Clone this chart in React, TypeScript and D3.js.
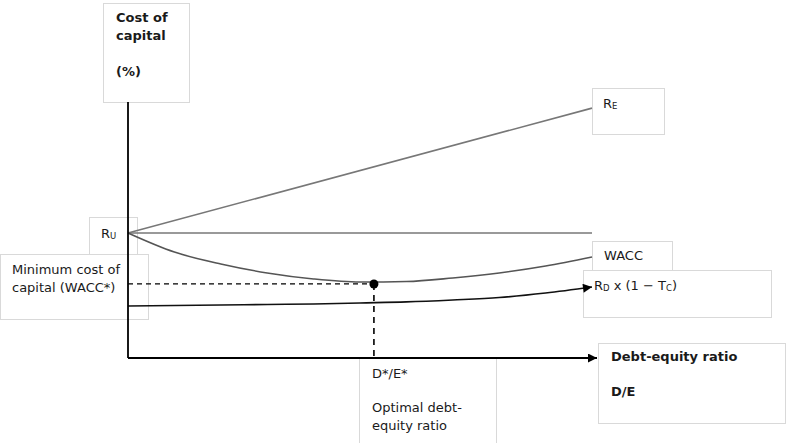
import React, { useEffect, useRef } from 'react'
import * as d3 from 'd3'

// debt-equity ratio (D/E) sample points
const deRatio = [0, 0.2, 0.4, 0.6, 0.8, 1.0, 1.2, 1.4, 1.6, 1.8, 2.0]
// cost of capital (%)
const waccValues = [12.16, 10.29, 9.12, 8.24, 7.65, 7.35, 7.4, 7.75, 8.24, 8.92, 9.8]
const debtAfterTax = [5.0, 5.05, 5.1, 5.15, 5.2, 5.3, 5.4, 5.59, 5.83, 6.27, 6.86]
const equityEnds = [
  { de: 0, value: 12.16 },
  { de: 2.0, value: 24.4 }
]
const unleveredCost = 12.16
const optimalRatio = 1.06
const minWacc = 7.16

const FONT = '"DejaVu Sans", Verdana, sans-serif'

export default function App() {
  const svgRef = useRef<SVGSVGElement | null>(null)

  useEffect(() => {
    if (!svgRef.current) {
      return
    }
    const width = 787
    const height = 443
    const svg = d3.select(svgRef.current)
    svg.attr('viewBox', `0 0 ${width} ${height}`)
    svg.selectAll('*').remove()

    const xScale = d3.scaleLinear().domain([0, 2]).range([128, 592])
    const yScale = d3.scaleLinear().domain([0, 25]).range([357, 102])

    const defs = svg.append('defs')
    defs
      .append('marker')
      .attr('id', 'arrow')
      .attr('viewBox', '0 0 10 10')
      .attr('refX', 10)
      .attr('refY', 5)
      .attr('markerWidth', 11)
      .attr('markerHeight', 9)
      .attr('markerUnits', 'userSpaceOnUse')
      .attr('orient', 'auto')
      .append('path')
      .attr('d', 'M0,0 L10,5 L0,10 Z')
      .attr('fill', '#000')

    // label boxes (behind the lines)
    const boxes = [
      { x: 103, y: 3, w: 86, h: 99 },
      { x: 89, y: 217, w: 48, h: 40 },
      { x: 0, y: 254, w: 148, h: 65 },
      { x: 592, y: 88, w: 72, h: 46 },
      { x: 592, y: 241, w: 80, h: 35 },
      { x: 583, y: 270, w: 188, h: 47 },
      { x: 359, y: 358, w: 137, h: 100 },
      { x: 598, y: 343, w: 187, h: 80 }
    ]
    svg
      .selectAll('rect.box')
      .data(boxes)
      .enter()
      .append('rect')
      .attr('class', 'box')
      .attr('x', (d) => d.x + 0.5)
      .attr('y', (d) => d.y + 0.5)
      .attr('width', (d) => d.w)
      .attr('height', (d) => d.h)
      .attr('fill', '#fff')
      .attr('stroke', '#d9d9d9')
      .attr('stroke-width', 1)

    const line = d3
      .line<[number, number]>()
      .x((d) => xScale(d[0]))
      .y((d) => yScale(d[1]))

    const curve = d3
      .line<[number, number]>()
      .x((d) => xScale(d[0]))
      .y((d) => yScale(d[1]))
      .curve(d3.curveMonotoneX)

    // R_E
    svg
      .append('path')
      .attr('d', line(equityEnds.map((d) => [d.de, d.value] as [number, number])))
      .attr('fill', 'none')
      .attr('stroke', '#777')
      .attr('stroke-width', 1.6)

    // R_U
    svg
      .append('path')
      .attr('d', line([[0, unleveredCost], [2, unleveredCost]]))
      .attr('fill', 'none')
      .attr('stroke', '#777')
      .attr('stroke-width', 1.6)

    // WACC
    svg
      .append('path')
      .attr('d', curve(deRatio.map((d, i) => [d, waccValues[i]] as [number, number])))
      .attr('fill', 'none')
      .attr('stroke', '#555')
      .attr('stroke-width', 1.6)

    // R_D x (1 - T_C)
    svg
      .append('path')
      .attr('d', curve(deRatio.map((d, i) => [d, debtAfterTax[i]] as [number, number])))
      .attr('fill', 'none')
      .attr('stroke', '#111')
      .attr('stroke-width', 1.6)
      .attr('marker-end', 'url(#arrow)')

    // dashed guides to the optimum
    svg
      .append('path')
      .attr('d', line([[0, minWacc], [optimalRatio, minWacc]]))
      .attr('fill', 'none')
      .attr('stroke', '#000')
      .attr('stroke-width', 1.2)
      .attr('stroke-dasharray', '5,4')
    svg
      .append('path')
      .attr('d', line([[optimalRatio, minWacc], [optimalRatio, 0]]))
      .attr('fill', 'none')
      .attr('stroke', '#000')
      .attr('stroke-width', 1.6)
      .attr('stroke-dasharray', '6,5')

    svg
      .append('circle')
      .attr('cx', xScale(optimalRatio))
      .attr('cy', yScale(minWacc))
      .attr('r', 4.5)
      .attr('fill', '#000')

    // axes
    svg
      .append('line')
      .attr('x1', xScale(0))
      .attr('x2', xScale(0))
      .attr('y1', 102)
      .attr('y2', yScale(0) + 1)
      .attr('stroke', '#000')
      .attr('stroke-width', 1.8)
    svg
      .append('line')
      .attr('x1', xScale(0))
      .attr('x2', 597)
      .attr('y1', yScale(0) + 1)
      .attr('y2', yScale(0) + 1)
      .attr('stroke', '#000')
      .attr('stroke-width', 1.8)
      .attr('marker-end', 'url(#arrow)')

    // texts
    const text = (x: number, y: number, s: string, bold = false) =>
      svg
        .append('text')
        .attr('x', x)
        .attr('y', y)
        .attr('font-family', FONT)
        .attr('font-size', 13)
        .attr('font-weight', bold ? 'bold' : 'normal')
        .attr('fill', '#1a1a1a')
        .text(s)

    text(116, 22, 'Cost of', true)
    text(116, 40, 'capital', true)
    text(116, 76, '(%)', true)

    text(12, 274, 'Minimum cost of')
    text(12, 292, 'capital (WACC*)')

    text(604, 260, 'WACC')

    text(372, 378, 'D*/E*')
    text(372, 412, 'Optimal debt-')
    text(372, 430, 'equity ratio')

    text(611, 361, 'Debt-equity ratio', true)
    text(611, 396, 'D/E', true)

    const sub = (x: number, y: number, main: string, s: string, rest = '') => {
      const t = text(x, y, '')
      t.append('tspan').text(main)
      t.append('tspan').attr('font-size', 8.5).attr('dy', 1).text(s)
      if (rest) {
        t.append('tspan').attr('dy', -1).text(rest)
      }
      return t
    }

    sub(101, 238, 'R', 'U')
    sub(603, 108, 'R', 'E')
    const rd = sub(594, 290, 'R', 'D', ' x (1 − T')
    rd.append('tspan').attr('font-size', 8.5).attr('dy', 1).text('C')
    rd.append('tspan').attr('dy', -1).text(')')
  }, [])

  return (
    <svg
      ref={svgRef}
      width={787}
      height={443}
      style={{ position: 'absolute', left: 0, top: 0, background: '#fff' }}
      role="img"
      aria-label="Cost of capital versus debt-equity ratio"
    />
  )
}
